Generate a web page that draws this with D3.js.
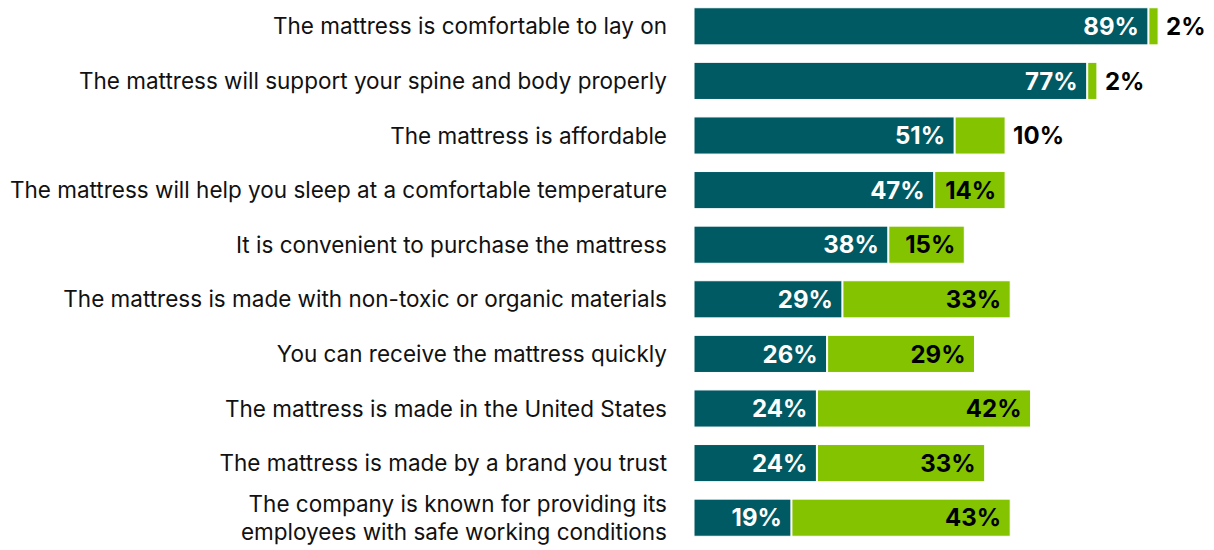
<!DOCTYPE html>
<html>
<head>
<meta charset="utf-8">
<script src="https://cdn.jsdelivr.net/npm/d3@7"></script>
<style>
  body { margin: 0; background: #fff; }
  text { font-family: Inter, "Noto Sans", sans-serif; }
</style>
</head>
<body>
<div id="chart"></div>
<script>
// chart values
const categories = [
  "The mattress is comfortable to lay on",
  "The mattress will support your spine and body properly",
  "The mattress is affordable",
  "The mattress will help you sleep at a comfortable temperature",
  "It is convenient to purchase the mattress",
  "The mattress is made with non-toxic or organic materials",
  "You can receive the mattress quickly",
  "The mattress is made in the United States",
  "The mattress is made by a brand you trust",
  "The company is known for providing its\nemployees with safe working conditions"
];
const primary = [89, 77, 51, 47, 38, 29, 26, 24, 24, 19];
const secondary = [2, 2, 10, 14, 15, 33, 29, 42, 33, 43];

const W = 1214, H = 550;
const svg = d3.select("#chart").append("svg")
  .attr("width", W).attr("height", H);

const x = d3.scaleLinear().domain([0, 100]).range([694, 694 + 510]);
const y = d3.scaleBand().domain(d3.range(categories.length))
  .range([-1, 545]).paddingInner(0.32).paddingOuter(0.16);

const rows = svg.selectAll("g.row")
  .data(categories.map((c, i) => ({ c, a: primary[i], b: secondary[i], i })))
  .join("g").attr("class", "row")
  .attr("transform", d => `translate(0,${y(d.i)})`);

const bh = y.bandwidth();

// dark bar
rows.append("rect")
  .attr("x", x(0))
  .attr("width", d => x(d.a) - x(0))
  .attr("height", bh)
  .attr("fill", "#005a64")
  .attr("stroke", "#fff").attr("stroke-width", 1);

// green bar
rows.append("rect")
  .attr("x", d => x(d.a) + 1)
  .attr("width", d => x(d.a + d.b) - x(d.a) - 1)
  .attr("height", bh)
  .attr("fill", "#84c300")
  .attr("stroke", "#fff").attr("stroke-width", 1);

// dark bar labels
rows.append("text")
  .attr("x", d => x(d.a) - 9)
  .attr("y", bh / 2)
  .attr("dy", "0.36em")
  .attr("text-anchor", "end")
  .attr("fill", "#fff")
  .style("font-size", "24px").style("font-weight", 700)
  .text(d => d.a + "%");

// green bar labels, outside if the segment is too small
rows.append("text")
  .attr("x", d => d.b >= 12 ? x(d.a + d.b) - 9 : x(d.a + d.b) + 8)
  .attr("y", bh / 2)
  .attr("dy", "0.36em")
  .attr("text-anchor", d => d.b >= 12 ? "end" : "start")
  .attr("fill", "#000")
  .style("font-size", "24px").style("font-weight", 700)
  .text(d => d.b + "%");

// category labels
rows.append("text")
  .attr("x", 667)
  .attr("y", bh / 2)
  .attr("text-anchor", "end")
  .attr("fill", "#111")
  .style("font-size", "22.5px")
  .each(function(d) {
    const lines = d.c.split("\n");
    const t = d3.select(this);
    lines.forEach((l, k) => {
      t.append("tspan")
        .attr("x", 667)
        .attr("dy", k === 0 ? (0.36 - (lines.length - 1) * 0.62) + "em" : "1.24em")
        .text(l);
    });
  });
</script>
</body>
</html>
